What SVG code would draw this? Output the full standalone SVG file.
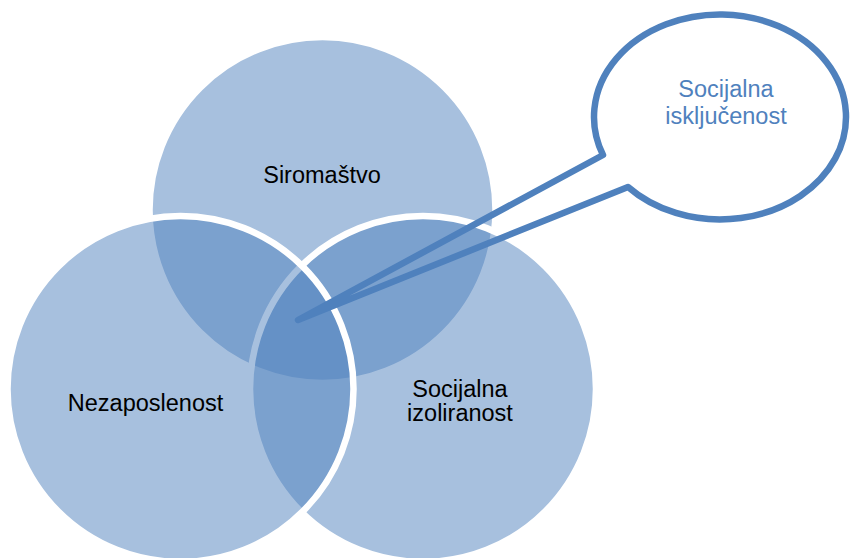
<svg xmlns="http://www.w3.org/2000/svg" width="850" height="558" viewBox="0 0 850 558">
<style>
.c{fill:rgba(79,129,189,0.5);stroke:#fff;stroke-width:6.5}
.t{font-family:"Liberation Sans",Arial,sans-serif;font-size:23.5px;fill:#000;text-anchor:middle}
.ct{font-family:"Liberation Sans",Arial,sans-serif;font-size:23.5px;fill:#4F81BD;text-anchor:middle}
</style>
<rect width="850" height="558" fill="#fff"/>
<g id="siromastvo">
<circle class="c" cx="322.5" cy="210" r="173"/>
</g>
<g id="izoliranost">
<circle class="c" cx="423" cy="389" r="173"/>
</g>
<g id="nezaposlenost">
<circle class="c" cx="180.5" cy="389" r="173"/>
</g>
<g id="labels">
<text class="t" x="322" y="183">Siromaštvo</text>
<text class="t" x="145.5" y="411">Nezaposlenost</text>
<text class="t" x="460" y="397">Socijalna</text>
<text class="t" x="460" y="421">izoliranost</text>
</g>
<g id="connectors">
<path d="M603 155 A126 102.5 0 1 1 628 187 L298 320 Z" fill="none" stroke="#4F81BD" stroke-width="6.5" stroke-linejoin="round" stroke-linecap="round"/>
</g>
<g id="iskljucenost">
<text class="ct" x="726" y="97">Socijalna</text>
<text class="ct" x="726" y="124">isključenost</text>
</g>
</svg>
